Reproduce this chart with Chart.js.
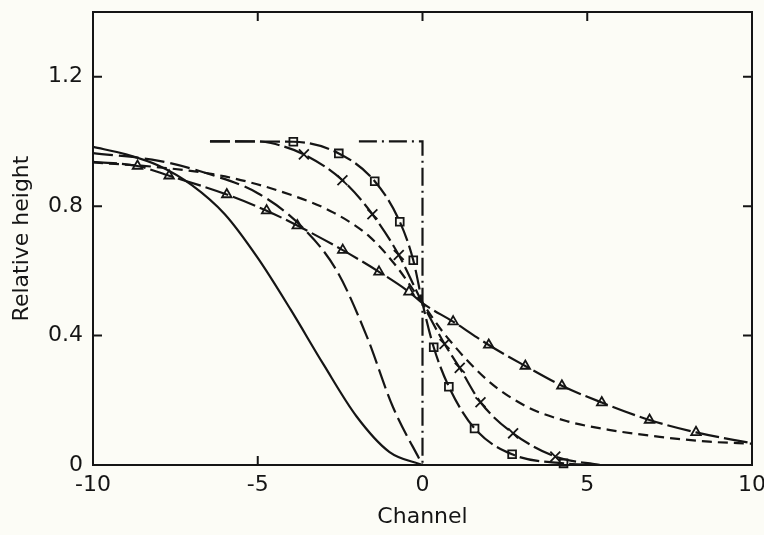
<!DOCTYPE html>
<html>
<head>
<meta charset="utf-8">
<script src="https://cdn.jsdelivr.net/npm/chart.js@4.4.1/dist/chart.umd.min.js"></script>
<style>
  body { margin: 0; background: #fcfcf6; }
  canvas { display: block; }
</style>
</head>
<body>
<canvas id="myChart" width="764" height="535"></canvas>
<script>
// curve vertices
let solidX = [-10, -9, -8, -7, -6, -5, -4, -3, -2, -1, 0];
let solidY = [0.983, 0.96, 0.925, 0.865, 0.775, 0.64, 0.48, 0.31, 0.15, 0.04, 0];

let longDashX = [-10, -8, -6.5, -5, -3.7, -2.6, -1.7, -0.9, 0];
let longDashY = [0.964, 0.94, 0.9, 0.84, 0.74, 0.6, 0.4, 0.18, 0];

let shortDashX = [-10, -8, -6, -4, -2.7, -1.6, -0.8, 0, 0.65, 1.96, 3.17, 4.4, 5.7, 7.2, 8.7, 10];
let shortDashY = [0.935, 0.92, 0.892, 0.835, 0.78, 0.705, 0.615, 0.5, 0.407, 0.263, 0.18, 0.135, 0.108, 0.087, 0.072, 0.066];

let triLineX = [-10, -8.65, -7.69, -5.94, -4.73, -3.8, -2.42, -1.32, -0.41, 0, 0.93, 2.01, 3.12, 4.23, 5.44, 6.89, 8.3, 10];
let triLineY = [0.937, 0.924, 0.894, 0.836, 0.786, 0.74, 0.664, 0.597, 0.535, 0.5, 0.443, 0.371, 0.306, 0.245, 0.193, 0.139, 0.101, 0.067];
let triMarkX = [-8.65, -7.69, -5.94, -4.73, -3.8, -2.42, -1.32, -0.41, 0.93, 2.01, 3.12, 4.23, 5.44, 6.89, 8.3];
let triMarkY = [0.924, 0.894, 0.836, 0.786, 0.74, 0.664, 0.597, 0.535, 0.443, 0.371, 0.306, 0.245, 0.193, 0.139, 0.101];

let crossLineX = [-6.45, -5, -4.6, -3.6, -2.43, -1.52, -0.72, 0, 0.67, 1.13, 1.76, 2.75, 4.03, 5.4];
let crossLineY = [1.0, 1.0, 0.995, 0.96, 0.88, 0.775, 0.649, 0.5, 0.374, 0.3, 0.194, 0.098, 0.026, 0];
let crossMarkX = [-3.6, -2.43, -1.52, -0.72, 0.67, 1.13, 1.76, 2.75, 4.03];
let crossMarkY = [0.96, 0.88, 0.775, 0.649, 0.374, 0.3, 0.194, 0.098, 0.026];

let squareLineX = [-6.45, -3.92, -2.54, -1.45, -0.69, -0.28, 0, 0.34, 0.8, 1.58, 2.72, 4.28, 5.4];
let squareLineY = [1.0, 0.999, 0.963, 0.877, 0.752, 0.633, 0.5, 0.364, 0.242, 0.113, 0.033, 0.005, 0];
let squareMarkX = [-3.92, -2.54, -1.45, -0.69, -0.28, 0.34, 0.8, 1.58, 2.72, 4.28];
let squareMarkY = [0.999, 0.963, 0.877, 0.752, 0.633, 0.364, 0.242, 0.113, 0.033, 0.005];

let stepX = [-1.93, 0, 0];
let stepY = [1.0, 1.0, 0];

let xTickMarks = [-10, -5, 0, 5, 10];
let yTickMarks = [0, 0.4, 0.8, 1.2];
let topTicks = [-5, 0, 5];
let bottomTicks = [-5];
let sideTicks = [0.4, 0.8, 1.2];

const ink = '#151515';
const paper = '#fcfcf6';

function pts(xs, ys) {
    let out = [];
    for (let i = 0; i < xs.length; i++) out.push({ x: xs[i], y: ys[i] });
    return out;
}

function curve(xs, ys, dash, smooth) {
    return {
        data: pts(xs, ys),
        showLine: true,
        borderColor: ink,
        borderWidth: 2.2,
        borderDash: dash,
        pointRadius: 0,
        fill: false,
        tension: smooth ? 0.4 : 0,
        cubicInterpolationMode: smooth ? 'monotone' : 'default',
    };
}

function marks(xs, ys, style, r) {
    return {
        data: pts(xs, ys),
        showLine: false,
        pointStyle: style,
        pointRadius: r,
        pointBorderWidth: 1.8,
        pointBorderColor: ink,
        pointBackgroundColor: paper,
        clip: false,
    };
}

// frame with inward ticks
const frameTicks = {
    id: 'frameTicks',
    afterDatasetsDraw(chart) {
        const { ctx, chartArea: a, scales } = chart;
        const x = scales.x, y = scales.y;
        ctx.save();
        ctx.strokeStyle = ink;
        ctx.lineWidth = 2;
        ctx.beginPath();
        for (let v of topTicks) {
            let px = x.getPixelForValue(v);
            ctx.moveTo(px, a.top); ctx.lineTo(px, a.top + 9);
        }
        for (let v of bottomTicks) {
            let px = x.getPixelForValue(v);
            ctx.moveTo(px, a.bottom); ctx.lineTo(px, a.bottom - 9);
        }
        for (let v of sideTicks) {
            let py = y.getPixelForValue(v);
            ctx.moveTo(a.left, py); ctx.lineTo(a.left + 9, py);
            ctx.moveTo(a.right, py); ctx.lineTo(a.right - 9, py);
        }
        ctx.stroke();
        ctx.strokeRect(a.left, a.top, a.right - a.left, a.bottom - a.top);
        ctx.restore();
    }
};

const labelFont = { family: 'DejaVu Sans', size: 22 };

var ctx = document.getElementById('myChart');
var chart = new Chart(ctx, {
    type: 'scatter',
    data: {
        datasets: [
            curve(solidX, solidY, [], true),
            curve(longDashX, longDashY, [20, 6], true),
            curve(shortDashX, shortDashY, [10, 6], true),
            curve(triLineX, triLineY, [24, 5], true),
            curve(crossLineX, crossLineY, [20, 5], true),
            curve(squareLineX, squareLineY, [20, 5], true),
            curve(stepX, stepY, [18, 5, 2, 5], false),
            marks(triMarkX, triMarkY, 'triangle', 5.5),
            marks(crossMarkX, crossMarkY, 'crossRot', 7),
            marks(squareMarkX, squareMarkY, 'rect', 5.5),
        ]
    },
    options: {
        responsive: false,
        animation: false,
        layout: { padding: { top: 12, right: 12, left: 0, bottom: 0 } },
        plugins: {
            legend: { display: false },
            tooltip: { enabled: false },
        },
        scales: {
            x: {
                type: 'linear',
                min: -10,
                max: 10,
                grid: { display: false, drawTicks: false },
                border: { display: false },
                afterBuildTicks: (s) => { s.ticks = xTickMarks.map(v => ({ value: v })); },
                afterFit: (s) => { s.height = 70; s.paddingLeft = 0; s.paddingRight = 0; },
                ticks: {
                    padding: 7,
                    color: ink,
                    font: labelFont,
                    maxRotation: 0,
                    autoSkip: false,
                    callback: (v) => String(v),
                },
                title: {
                    display: true,
                    text: 'Channel',
                    color: ink,
                    font: labelFont,
                    padding: { top: 0, bottom: 5 },
                },
            },
            y: {
                min: 0,
                max: 1.4,
                grid: { display: false, drawTicks: false },
                border: { display: false },
                afterBuildTicks: (s) => { s.ticks = yTickMarks.map(v => ({ value: v })); },
                afterFit: (s) => { s.width = 93; s.paddingTop = 0; s.paddingBottom = 0; },
                ticks: {
                    padding: 10,
                    color: ink,
                    font: labelFont,
                    callback: (v) => v === 0 ? '0' : v.toFixed(1),
                },
                title: {
                    display: true,
                    text: 'Relative height',
                    color: ink,
                    font: labelFont,
                    padding: { top: 9, bottom: 0 },
                },
            }
        }
    },
    plugins: [frameTicks]
});
</script>
</body>
</html>
